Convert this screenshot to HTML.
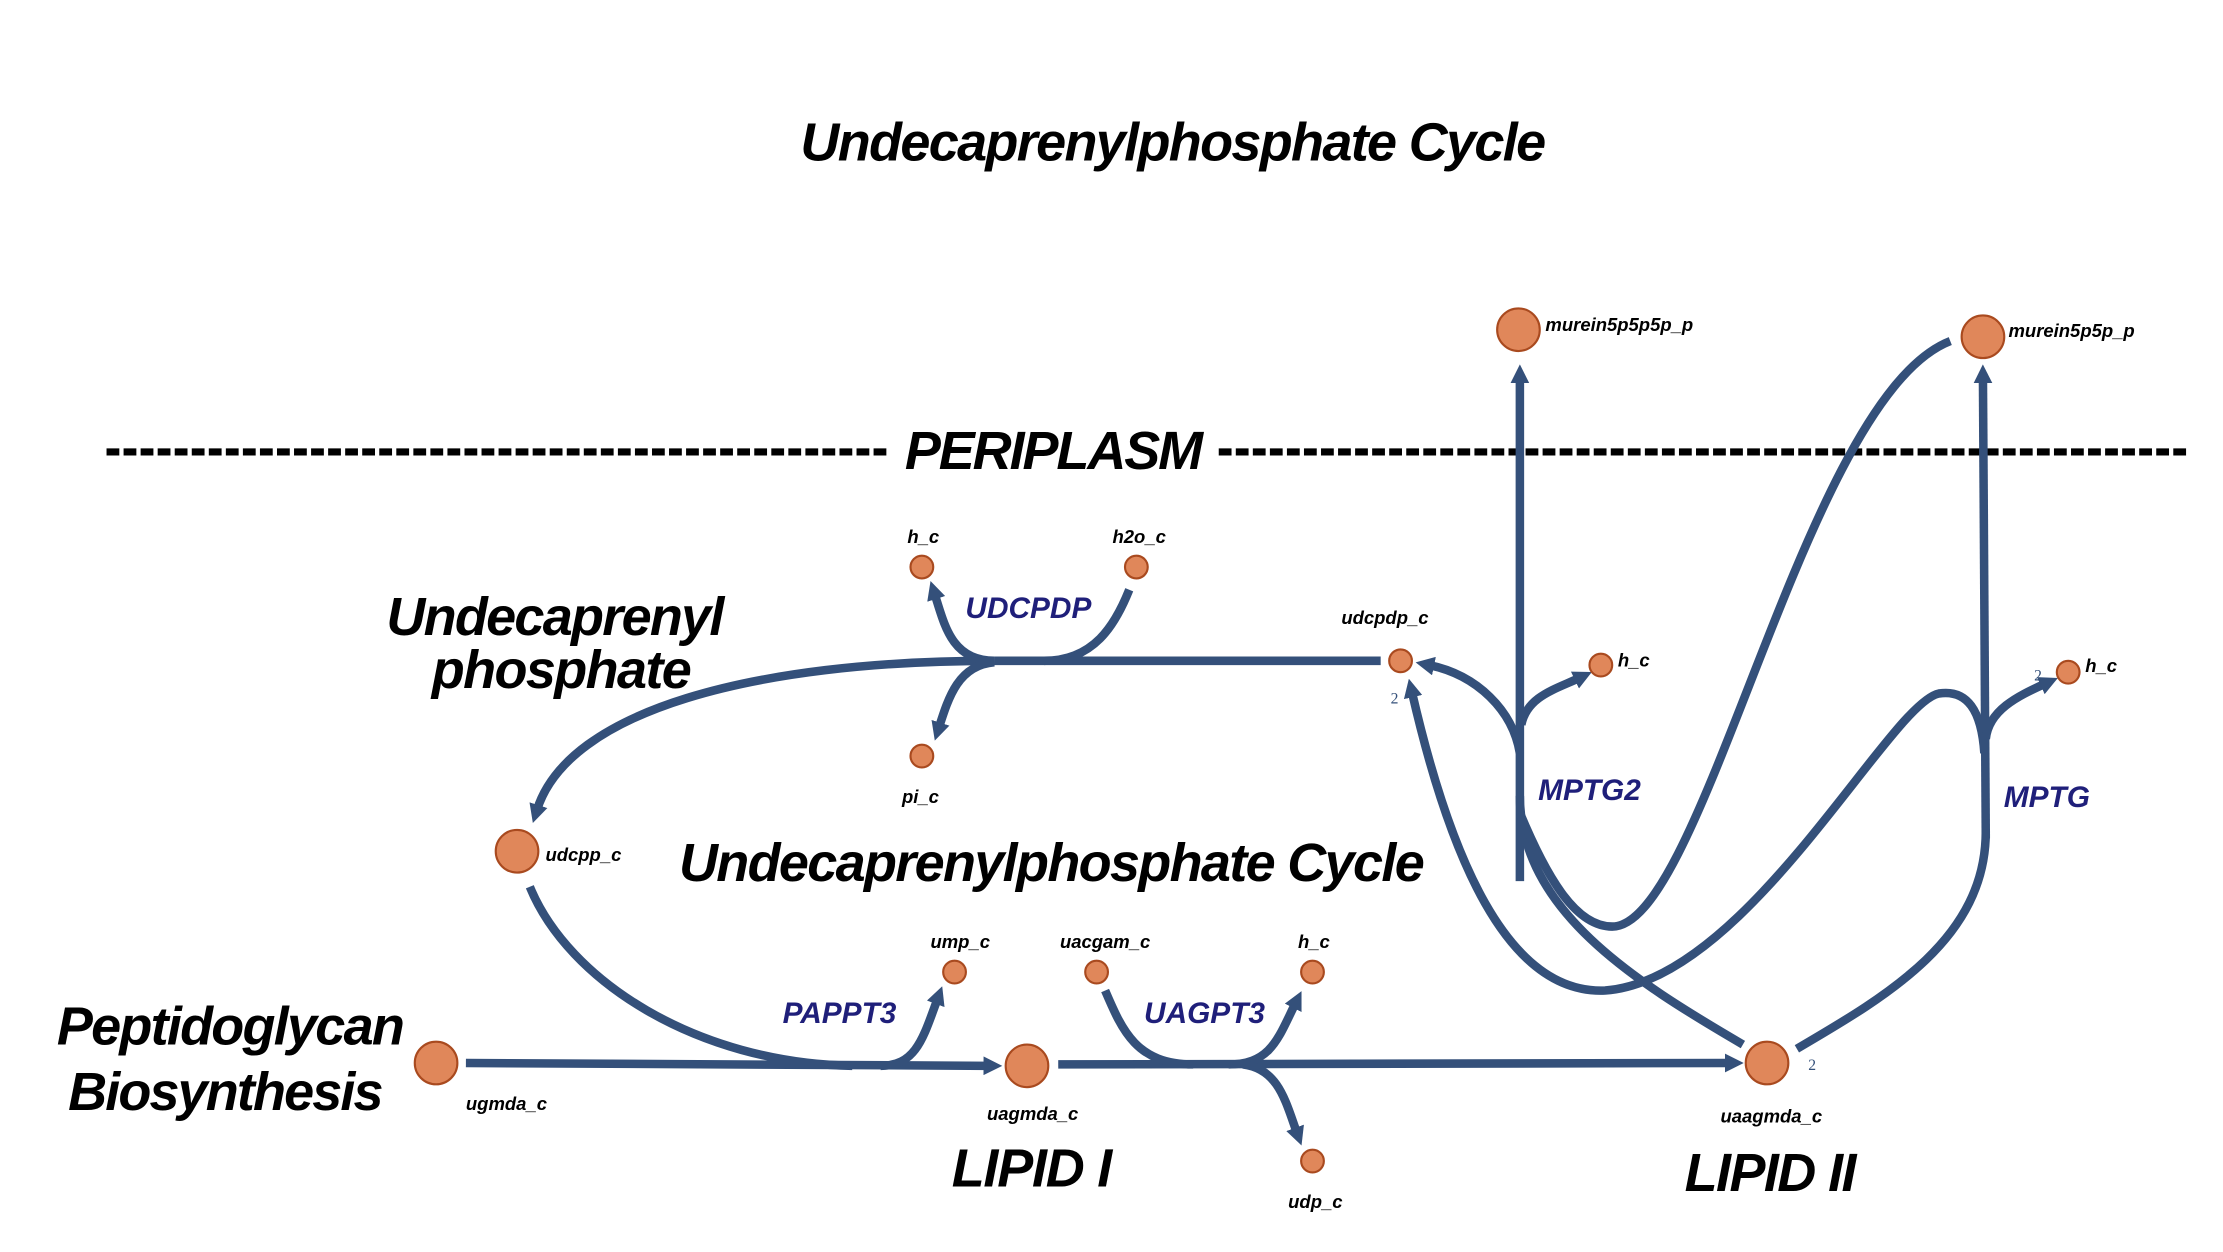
<!DOCTYPE html>
<html><head><meta charset="utf-8"><style>
html,body{margin:0;padding:0;background:#fff;}
svg{display:block;}
text{font-family:"Liberation Sans Narrow","Liberation Sans",sans-serif;font-style:italic;font-weight:bold;}
.big{font-size:38px;fill:#000;}
.met{font-size:13px;fill:#000;}
.rx{font-size:21px;fill:#1f1f7a;}
.e{fill:none;stroke:#34507a;stroke-width:6;}
.n{fill:#e0875a;stroke:#a94a1f;stroke-width:1.5;}
.s{font-size:11px;fill:#34507a;font-style:normal;font-weight:normal;font-family:"Liberation Serif",serif;}
</style></head><body>
<svg width="2223" height="1252" viewBox="0 0 1565 881" preserveAspectRatio="none">
<defs><marker id="a" markerWidth="2.2" markerHeight="2.2" refX="0.6" refY="1.1" orient="auto" markerUnits="strokeWidth"><path d="M0,0 L2.2,1.1 L0,2.2 z" fill="#34507a"/></marker></defs>

<text class="big" x="826" y="113" text-anchor="middle" textLength="525">Undecaprenylphosphate Cycle</text>
<line x1="75" y1="318" x2="625" y2="318" stroke="#000" stroke-width="5" stroke-dasharray="9,3"/>
<text class="big" x="637" y="330" textLength="210">PERIPLASM</text>
<line x1="858" y1="318" x2="1540" y2="318" stroke="#000" stroke-width="5" stroke-dasharray="9,3"/>

<g>
<path class="e" d="M328,748 L696,750" marker-end="url(#a)"/>
<path class="e" d="M373,624 C400,690 490,748 600,750"/>
<path class="e" d="M620,750 C645,750 650,730 660,703" marker-end="url(#a)"/>
<path class="e" d="M745,749 L1218,748" marker-end="url(#a)"/>
<path class="e" d="M778,697 C790,725 800,749 840,749"/>
<path class="e" d="M865,749 C895,749 900,730 912,706" marker-end="url(#a)"/>
<path class="e" d="M875,749 C900,752 905,775 913,797" marker-end="url(#a)"/>
<path class="e" d="M972,465 L700,465"/>
<path class="e" d="M700,465 C530,465 400,500 378,570" marker-end="url(#a)"/>
<path class="e" d="M700,465 C670,465 665,440 658,418" marker-end="url(#a)"/>
<path class="e" d="M735,465 C770,465 785,440 795,415"/>
<path class="e" d="M700,466 C675,468 668,490 661,512" marker-end="url(#a)"/>
<path class="e" d="M1070,620 L1070,266" marker-end="url(#a)"/>
<path class="e" d="M1070,530 C1065,500 1040,475 1006,468" marker-end="url(#a)"/>
<path class="e" d="M1071,510 C1075,490 1095,485 1112,477" marker-end="url(#a)"/>
<path class="e" d="M1227,735 C1150,690 1070,640 1070,560"/>
<path class="e" d="M1070,572 C1090,620 1110,652 1135,652 C1200,652 1270,280 1373,240"/>
<path class="e" d="M1397,530 C1395,500 1385,485 1365,488 C1330,495 1230,690 1130,697 C1060,700 1020,600 994,487" marker-end="url(#a)"/>
<path class="e" d="M1398,590 L1396,266" marker-end="url(#a)"/>
<path class="e" d="M1398,520 C1400,500 1420,490 1440,481" marker-end="url(#a)"/>
<path class="e" d="M1398,585 C1398,660 1330,700 1265,738"/>
</g>

<g>
<circle class="n" cx="1069" cy="232" r="15"/>
<text class="met" x="1088" y="233">murein5p5p5p_p</text>
<circle class="n" cx="1396" cy="237" r="15"/>
<text class="met" x="1414" y="237">murein5p5p_p</text>
<circle class="n" cx="649" cy="399" r="8"/>
<text class="met" x="650" y="382" text-anchor="middle">h_c</text>
<circle class="n" cx="800" cy="399" r="8"/>
<text class="met" x="802" y="382" text-anchor="middle">h2o_c</text>
<circle class="n" cx="649" cy="532" r="8"/>
<text class="met" x="648" y="565" text-anchor="middle">pi_c</text>
<circle class="n" cx="986" cy="465" r="8"/>
<text class="met" x="975" y="439" text-anchor="middle">udcpdp_c</text>
<text class="s" x="979" y="495">2</text>
<circle class="n" cx="1127" cy="468" r="8"/>
<text class="met" x="1139" y="469">h_c</text>
<circle class="n" cx="1456" cy="473" r="8"/>
<text class="met" x="1468" y="473">h_c</text>
<text class="s" x="1432" y="479">2</text>
<circle class="n" cx="364" cy="599" r="15"/>
<text class="met" x="384" y="606">udcpp_c</text>
<circle class="n" cx="672" cy="684" r="8"/>
<text class="met" x="676" y="667" text-anchor="middle">ump_c</text>
<circle class="n" cx="772" cy="684" r="8"/>
<text class="met" x="778" y="667" text-anchor="middle">uacgam_c</text>
<circle class="n" cx="924" cy="684" r="8"/>
<text class="met" x="925" y="667" text-anchor="middle">h_c</text>
<circle class="n" cx="307" cy="748" r="15"/>
<text class="met" x="328" y="781">ugmda_c</text>
<circle class="n" cx="723" cy="750" r="15"/>
<text class="met" x="727" y="788" text-anchor="middle">uagmda_c</text>
<circle class="n" cx="924" cy="817" r="8"/>
<text class="met" x="926" y="850" text-anchor="middle">udp_c</text>
<circle class="n" cx="1244" cy="748" r="15"/>
<text class="met" x="1247" y="790" text-anchor="middle">uaagmda_c</text>
<text class="s" x="1273" y="753">2</text>
</g>

<g>
<text class="rx" x="724" y="435" text-anchor="middle">UDCPDP</text>
<text class="rx" x="1119" y="563" text-anchor="middle">MPTG2</text>
<text class="rx" x="1441" y="568" text-anchor="middle">MPTG</text>
<text class="rx" x="591" y="720" text-anchor="middle">PAPPT3</text>
<text class="rx" x="848" y="720" text-anchor="middle">UAGPT3</text>
</g>

<g>
<text class="big" x="272" y="447" textLength="238">Undecaprenyl</text>
<text class="big" x="304" y="484" textLength="183">phosphate</text>
<text class="big" x="478" y="620" textLength="525">Undecaprenylphosphate Cycle</text>
<text class="big" x="40" y="735" textLength="245">Peptidoglycan</text>
<text class="big" x="48" y="781" textLength="222">Biosynthesis</text>
<text class="big" x="670" y="835" textLength="113">LIPID I</text>
<text class="big" x="1186" y="838" textLength="121">LIPID II</text>
</g>
</svg>
</body></html>
